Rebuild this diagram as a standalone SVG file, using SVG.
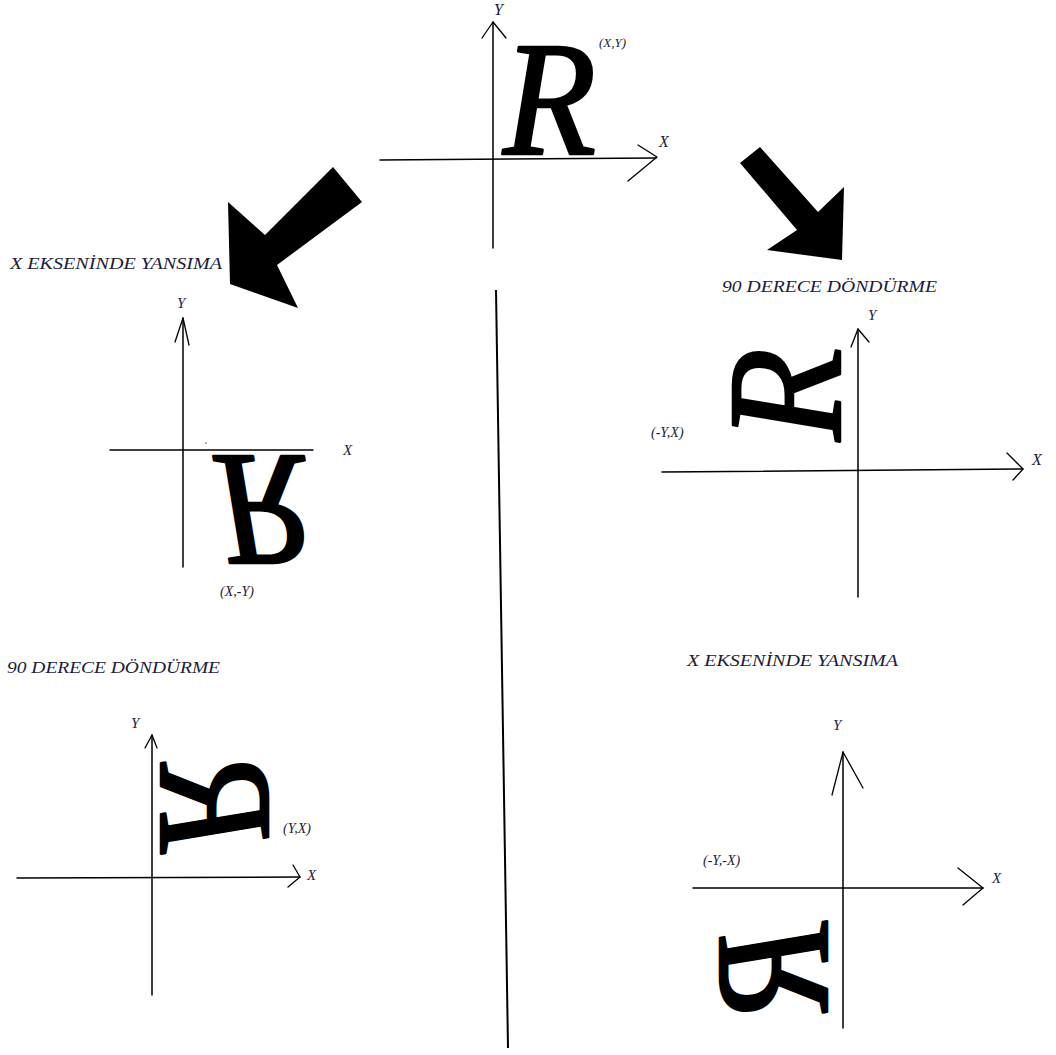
<svg xmlns="http://www.w3.org/2000/svg" width="1056" height="1055" viewBox="0 0 1056 1055">
<style>
.ax{stroke:#000;stroke-width:1.5;fill:none;stroke-linecap:round}
.ah{stroke:#000;stroke-width:1.3;fill:none;stroke-linecap:round;stroke-linejoin:round}
.lbl{font-family:"Liberation Serif","DejaVu Serif",serif;font-style:italic;fill:#1c1c3a}
.ttl{font-family:"Liberation Serif","DejaVu Serif",serif;font-style:italic;font-size:16px;fill:#1c1c3a}
.big{font-family:"Liberation Serif","DejaVu Serif",serif;font-style:italic;font-size:164px;fill:#000;stroke:#000;stroke-width:2.5;stroke-linejoin:round}
</style>
<rect width="1056" height="1055" fill="#fff"/>

<g id="original">
  <line class="ax" x1="493" y1="22" x2="493" y2="248"/>
  <polyline class="ah" points="482,38 493,22 506,38"/>
  <line class="ax" x1="380" y1="160" x2="656" y2="158"/>
  <polyline class="ah" points="638,145 657,157 628,181"/>
  <text class="lbl" x="494" y="15" font-size="16">Y</text>
  <text class="lbl" x="659" y="147" font-size="16">X</text>
  <text class="lbl" x="599" y="47" font-size="13">(X,Y)</text>
  <text class="big" transform="translate(503,154) scale(0.93,1)">R</text>
</g>

<g id="reflect-1">
  <text class="ttl" x="10" y="269" textLength="212" lengthAdjust="spacingAndGlyphs">X EKSENİNDE YANSIMA</text>
  <line class="ax" x1="183" y1="318" x2="183" y2="567"/>
  <polyline class="ah" points="175,342 183,318 189,345"/>
  <line class="ax" x1="110" y1="450" x2="313" y2="450"/>
  <circle cx="206" cy="443" r="0.8" fill="#555"/>
  <text class="lbl" x="177" y="308" font-size="15">Y</text>
  <text class="lbl" x="343" y="455" font-size="15">X</text>
  <text class="lbl" x="220" y="596" font-size="14">(X,-Y)</text>
  <text class="big" transform="translate(214,456) scale(0.93,-1)">R</text>
</g>

<g id="rotate-1">
  <text class="ttl" x="722" y="292" textLength="215" lengthAdjust="spacingAndGlyphs">90 DERECE DÖNDÜRME</text>
  <line class="ax" x1="858" y1="329" x2="858" y2="597"/>
  <polyline class="ah" points="851,347 858,329 869,342"/>
  <line class="ax" x1="662" y1="472" x2="1023" y2="469"/>
  <polyline class="ah" points="1007,453 1023,469 1013,480"/>
  <text class="lbl" x="868" y="320" font-size="15">Y</text>
  <text class="lbl" x="1032" y="465" font-size="16">X</text>
  <text class="lbl" x="651" y="437" font-size="14">(-Y,X)</text>
  <text class="big" transform="translate(840,441) rotate(-90) scale(0.93,1)">R</text>
</g>

<g id="rotate-2">
  <text class="ttl" x="7" y="673" textLength="213" lengthAdjust="spacingAndGlyphs">90 DERECE DÖNDÜRME</text>
  <line class="ax" x1="152" y1="735" x2="152" y2="995"/>
  <polyline class="ah" points="145,748 152,735 157,748"/>
  <line class="ax" x1="17" y1="878" x2="300" y2="877"/>
  <polyline class="ah" points="293,865 300,877 288,887"/>
  <text class="lbl" x="131" y="728" font-size="15">Y</text>
  <text class="lbl" x="307" y="880" font-size="15">X</text>
  <text class="lbl" x="283" y="833" font-size="14">(Y,X)</text>
  <text class="big" transform="matrix(0,-0.93,-1,0,161,853)">R</text>
</g>

<g id="reflect-2">
  <text class="ttl" x="687" y="666" textLength="211" lengthAdjust="spacingAndGlyphs">X EKSENİNDE YANSIMA</text>
  <line class="ax" x1="843" y1="752" x2="843" y2="1028"/>
  <polyline class="ah" points="832,795 843,752 863,788"/>
  <line class="ax" x1="693" y1="888" x2="983" y2="888"/>
  <polyline class="ah" points="958,868 983,888 963,905"/>
  <text class="lbl" x="833" y="730" font-size="15">Y</text>
  <text class="lbl" x="992" y="883" font-size="15">X</text>
  <text class="lbl" x="703" y="865" font-size="14">(-Y,-X)</text>
  <text class="big" transform="matrix(0,0.93,1,0,827,922)">R</text>
</g>

<g id="connectors">
  <polygon fill="#000" points="333,167 362,202 277,265 298,308 230,284 228,202 265,235"/>
  <polygon fill="#000" points="760,147 818,212 844,187 842,260 767,250 797,230 740,163"/>
  <line x1="496" y1="290" x2="508" y2="1048" stroke="#000" stroke-width="2"/>
</g>
</svg>
